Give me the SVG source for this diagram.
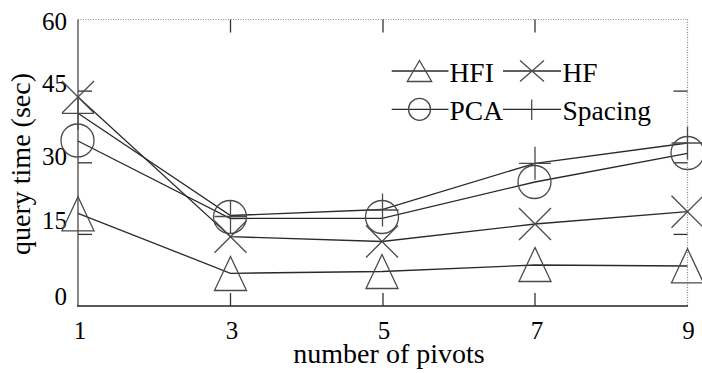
<svg xmlns="http://www.w3.org/2000/svg" width="702" height="373" viewBox="0 0 702 373">
<style>
text{font-family:"Liberation Serif","Times New Roman",serif;fill:#000}
.tick{font-size:25px}
.lab{font-size:28px}
.leg{font-size:27.5px}
.ser{fill:none;stroke:#2a2a2a;stroke-width:1.3}
.mk{fill:none;stroke:#4a4a4a;stroke-width:1.3}
.ax{stroke:#6a6a6a;stroke-width:1.6;fill:none}
.dot{stroke:#888;stroke-width:1.2;stroke-dasharray:1 1.5;fill:none}
.tk{stroke:#333;stroke-width:1.3}
</style>
<defs>
<path id="tri" d="M0,-17 L16,17 L-16,17 Z"/>
<path id="xm" d="M-16,-16 L16,16 M16,-16 L-16,16"/>
<circle id="ci" r="16.5"/>
<path id="pl" d="M-16,0 L16,0 M0,-16.5 L0,16.5"/>
<path id="triS" d="M0,-10.5 L12.2,10.5 L-12.2,10.5 Z"/>
<path id="xmS" d="M-12,-10.5 L12,10.5 M12,-10.5 L-12,10.5"/>
</defs>

<g id="frame">
<line class="dot" x1="78" y1="19.5" x2="687.5" y2="19.5"/>
<line class="dot" x1="687.5" y1="19.5" x2="687.5" y2="306"/>
<line class="ax" x1="78" y1="19.5" x2="78" y2="306"/>
<line x1="77" y1="306" x2="688" y2="306" stroke="#222" stroke-width="1.6"/>
<g class="tk">
<line x1="78" y1="234.4" x2="92" y2="234.4"/>
<line x1="78" y1="162.8" x2="92" y2="162.8"/>
<line x1="78" y1="91.1" x2="92" y2="91.1"/>
<line x1="687.5" y1="234.4" x2="673.5" y2="234.4"/>
<line x1="687.5" y1="162.8" x2="673.5" y2="162.8"/>
<line x1="687.5" y1="91.1" x2="673.5" y2="91.1"/>
<line x1="230.5" y1="306" x2="230.5" y2="293"/>
<line x1="383" y1="306" x2="383" y2="293"/>
<line x1="535" y1="306" x2="535" y2="293"/>
<line x1="230.5" y1="19.5" x2="230.5" y2="32.5"/>
<line x1="383" y1="19.5" x2="383" y2="32.5"/>
<line x1="535" y1="19.5" x2="535" y2="32.5"/>
</g>
</g>

<g id="y-labels" class="tick" text-anchor="end">
<text x="67" y="29.5">60</text>
<text x="67" y="92">45</text>
<text x="67" y="165">30</text>
<text x="67" y="228.5">15</text>
<text x="67" y="305">0</text>
</g>
<g id="x-labels" class="tick" text-anchor="middle">
<text x="80" y="339">1</text>
<text x="232" y="339">3</text>
<text x="384" y="339">5</text>
<text x="537" y="339">7</text>
<text x="688.5" y="339">9</text>
</g>
<text id="x-title" class="lab" x="389" y="363" text-anchor="middle">number of pivots</text>
<text id="y-title" class="lab" transform="translate(30,164) rotate(-90)" text-anchor="middle">query time (sec)</text>

<g id="connectors">
<polyline id="line-HFI" class="ser" points="78,213.3 230.5,273.3 382,271.5 535,265 687.5,266"/>
<polyline id="line-HF" class="ser" points="78,97 230.5,236.7 382,241.5 535,224 687.5,211.7"/>
<polyline id="line-PCA" class="ser" points="78,141 230.5,218.5 382,218.3 535,182 687.5,153.3"/>
<polyline id="line-Spacing" class="ser" points="78,113.3 230.5,215.5 382,209.5 535,163.3 687.5,143"/>
</g>

<g id="HFI" class="mk">
<use href="#tri" x="78" y="213.8"/>
<use href="#tri" x="230.5" y="273.5"/>
<use href="#tri" x="382" y="271.5"/>
<use href="#tri" x="535" y="264.5"/>
<use href="#tri" x="687.5" y="265.8"/>
</g>
<g id="HF" class="mk">
<use href="#xm" x="78" y="97"/>
<use href="#xm" x="230.5" y="236.7"/>
<use href="#xm" x="382" y="241.5"/>
<use href="#xm" x="535" y="224"/>
<use href="#xm" x="687.5" y="211.7"/>
</g>
<g id="PCA" class="mk">
<use href="#ci" x="77.5" y="140.5"/>
<use href="#ci" x="230" y="217"/>
<use href="#ci" x="382" y="217"/>
<use href="#ci" x="534.5" y="182"/>
<use href="#ci" x="687.5" y="153"/>
</g>
<g id="Spacing" class="mk">
<use href="#pl" x="78" y="113.3"/>
<use href="#pl" x="230.5" y="216.5"/>
<use href="#pl" x="382.5" y="210"/>
<use href="#pl" x="535" y="163.3"/>
<use href="#pl" x="687.5" y="143"/>
</g>

<g id="legend">
<line class="ser" x1="391.7" y1="71" x2="448.5" y2="71"/>
<use class="mk" href="#triS" x="419.5" y="71"/>
<text class="leg" x="449.5" y="81.5">HFI</text>
<line class="ser" x1="503" y1="71" x2="561" y2="71"/>
<use class="mk" href="#xmS" x="532" y="71"/>
<text class="leg" x="562.5" y="81.5">HF</text>
<line class="ser" x1="391.7" y1="109.3" x2="448.5" y2="109.3"/>
<circle class="mk" cx="419.5" cy="109.3" r="11"/>
<text class="leg" x="449.5" y="120">PCA</text>
<line class="ser" x1="503" y1="109.3" x2="561" y2="109.3"/>
<line class="mk" x1="531.7" y1="99.5" x2="531.7" y2="120"/>
<text class="leg" x="562.5" y="120">Spacing</text>
</g>
</svg>
